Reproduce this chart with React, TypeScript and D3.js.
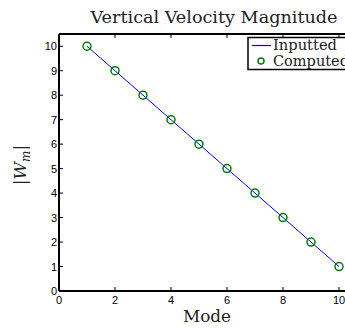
import React from "react";
import * as d3 from "d3";

const modes = [1, 2, 3, 4, 5, 6, 7, 8, 9, 10];
const inputted = [10, 9, 8, 7, 6, 5, 4, 3, 2, 1];
const computed = [10, 9, 8, 7, 6, 5, 4, 3, 2, 1];
const xTicks = [0, 2, 4, 6, 8, 10];
const yTicks = [0, 1, 2, 3, 4, 5, 6, 7, 8, 9, 10];
const title = "Vertical Velocity Magnitude";
const xLabel = "Mode";
const legendLabels = ["Inputted", "Computed"];

export default function App() {
  const W = 345, H = 328;
  const left = 59, right = 353, top = 34, bottom = 291;
  const x = d3.scaleLinear().domain([0, 10.5]).range([left, right]);
  const y = d3.scaleLinear().domain([0, 10.5]).range([bottom, top]);
  const line = d3.line<number>().x((_, i) => x(modes[i])).y((d) => y(d));
  const serif = "'DejaVu Serif', 'Liberation Serif', serif";
  const sans = "'Liberation Sans', Arial, sans-serif";
  return (
    <svg width={W} height={H} style={{ position: "absolute", left: 0, top: 0 }}>
      <rect width={W} height={H} fill="white" />
      <text x={214} y={23} textAnchor="middle" fontFamily={serif} fontSize={16} fill="#222" textLength={247} lengthAdjust="spacingAndGlyphs">{title}</text>
      {xTicks.map((t) => (
        <g key={"x" + t}>
          <line x1={x(t)} x2={x(t)} y1={bottom} y2={bottom - 4} stroke="#000" strokeWidth={1} />
          <line x1={x(t)} x2={x(t)} y1={top} y2={top + 4} stroke="#000" strokeWidth={1} />
          <text x={x(t)} y={bottom + 13} textAnchor="middle" fontFamily={sans} fontSize={11} fill="#000">{t}</text>
        </g>
      ))}
      {yTicks.map((t) => (
        <g key={"y" + t}>
          <line x1={left} x2={left + 4} y1={y(t)} y2={y(t)} stroke="#000" strokeWidth={1} />
          <text x={left - 2} y={y(t) + 4} textAnchor="end" fontFamily={sans} fontSize={11} fill="#000">{t}</text>
        </g>
      ))}
      <line x1={left} x2={left} y1={top} y2={bottom} stroke="#000" strokeWidth={2} />
      <line x1={left} x2={right} y1={bottom} y2={bottom} stroke="#000" strokeWidth={2} />
      <line x1={left} x2={right} y1={top} y2={top} stroke="#000" strokeWidth={2} />
      <path d={line(inputted) || ""} fill="none" stroke="#0000ff" strokeWidth={1} />
      {computed.map((v, i) => (
        <circle key={i} cx={x(modes[i])} cy={y(v)} r={4} fill="none" stroke="#008000" strokeWidth={1.5} />
      ))}
      <rect x={248} y={37.5} width={110} height={32} fill="white" stroke="#000" strokeWidth={1.5} />
      <line x1={252} x2={271} y1={45.5} y2={45.5} stroke="#0000ff" strokeWidth={1.2} />
      <text x={273} y={50} fontFamily={serif} fontSize={14} fill="#222" textLength={64} lengthAdjust="spacingAndGlyphs">{legendLabels[0]}</text>
      <circle cx={261} cy={61} r={3} fill="none" stroke="#008000" strokeWidth={1.5} />
      <text x={273} y={66} fontFamily={serif} fontSize={14} fill="#222" textLength={76} lengthAdjust="spacingAndGlyphs">{legendLabels[1]}</text>
      <text x={207} y={322} textAnchor="middle" fontFamily={serif} fontSize={16} fill="#222" textLength={48} lengthAdjust="spacingAndGlyphs">{xLabel}</text>
      <text transform="translate(26,165) rotate(-90)" textAnchor="middle" fontFamily={serif} fontSize={17} fill="#222">
        |<tspan fontStyle="italic">W</tspan><tspan fontStyle="italic" fontSize={12} dy={4}>m</tspan><tspan dy={-4}>|</tspan>
      </text>
    </svg>
  );
}
